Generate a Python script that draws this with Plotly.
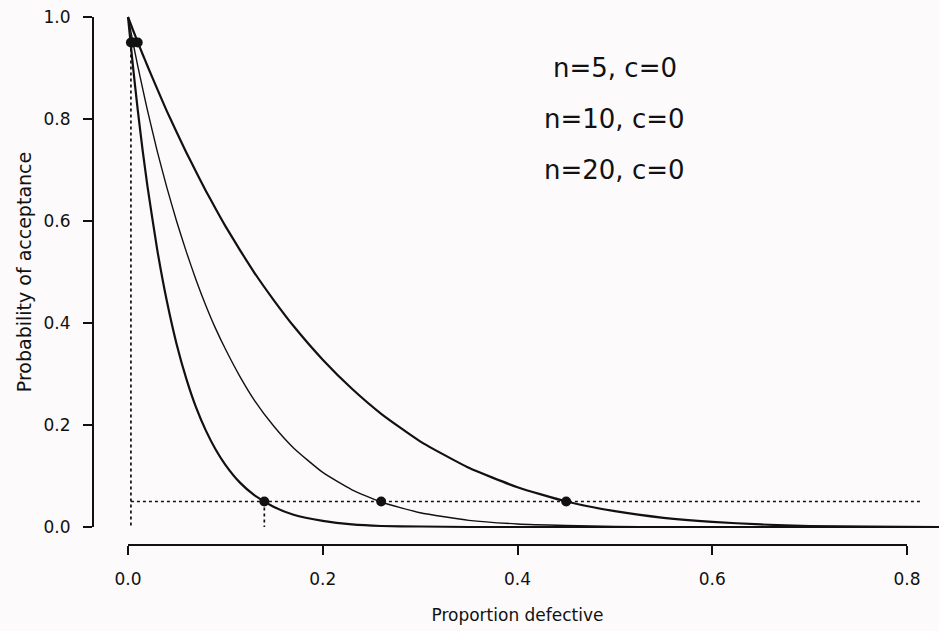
import plotly.graph_objects as go

# Proportion defective (x) and probability of acceptance
p_defective = [0.0, 0.005, 0.01, 0.015, 0.02, 0.03, 0.04, 0.05, 0.06, 0.07, 0.08,
               0.09, 0.10, 0.115, 0.13, 0.15, 0.17, 0.20, 0.23, 0.26, 0.30, 0.35,
               0.40, 0.45, 0.50, 0.55, 0.60, 0.65, 0.70, 0.76, 0.833]
pa_n5 = [1.0, 0.975, 0.951, 0.927, 0.904, 0.859, 0.815, 0.774, 0.734, 0.696, 0.659,
         0.624, 0.590, 0.543, 0.498, 0.444, 0.394, 0.328, 0.271, 0.222, 0.168, 0.116,
         0.078, 0.050, 0.031, 0.018, 0.010, 0.005, 0.002, 0.001, 0.0]
pa_n10 = [1.0, 0.951, 0.904, 0.860, 0.817, 0.737, 0.665, 0.599, 0.539, 0.484, 0.434,
          0.389, 0.349, 0.295, 0.248, 0.197, 0.155, 0.107, 0.073, 0.049, 0.028, 0.013,
          0.006, 0.003, 0.001, 0.0, 0.0, 0.0, 0.0, 0.0, 0.0]
pa_n20 = [1.0, 0.905, 0.818, 0.739, 0.668, 0.544, 0.442, 0.358, 0.290, 0.234, 0.189,
          0.152, 0.122, 0.087, 0.062, 0.039, 0.024, 0.012, 0.005, 0.002, 0.001, 0.0,
          0.0, 0.0, 0.0, 0.0, 0.0, 0.0, 0.0, 0.0, 0.0]

plan_labels = ["n=5, c=0", "n=10, c=0", "n=20, c=0"]
label_x = [0.5, 0.5, 0.5]
label_y = [0.9, 0.8, 0.7]

# marked points: producer's risk (Pa=0.95) and consumer's risk (Pa=0.05)
pa_high = 0.95
pa_low = 0.05
p_at_high = [0.010, 0.005, 0.003]
p_at_low = [0.45, 0.26, 0.14]
ref_x_start = 0.003
ref_x_end = 0.816

x_ticks = [0.0, 0.2, 0.4, 0.6, 0.8]
y_ticks = [0.0, 0.2, 0.4, 0.6, 0.8, 1.0]

W, H = 939, 631
# pixel geometry of the reference
px0, px08 = 128, 907        # x=0 and x=0.8
py0, py1 = 527, 17          # y=0 and y=1
x_axis_py = 545
y_axis_px = 93

sx = (px08 - px0) / 0.8
sy = (py0 - py1) / 1.0

font = "DejaVu Sans"
ink = "#111111"

fig = go.Figure()

for ys, w in [(pa_n5, 2.2), (pa_n10, 1.4), (pa_n20, 2.2)]:
    fig.add_trace(go.Scatter(x=p_defective, y=ys, mode="lines",
                             line=dict(color=ink, width=w, shape="spline", smoothing=0.5),
                             showlegend=False, hoverinfo="skip", xaxis="x", yaxis="y"))

# dotted reference lines
fig.add_trace(go.Scatter(x=[ref_x_start, ref_x_start, None, ref_x_start, ref_x_end, None,
                            p_at_low[2], p_at_low[2]],
                         y=[pa_high, 0.0, None, pa_low, pa_low, None, pa_low, 0.0],
                         mode="lines", line=dict(color=ink, width=1.7, dash="dot"),
                         showlegend=False, hoverinfo="skip", xaxis="x", yaxis="y"))

# markers on the visible (detached) axes
fig.add_trace(go.Scatter(x=p_at_high + p_at_low, y=[pa_high] * 3 + [pa_low] * 3,
                         mode="markers", marker=dict(color=ink, size=10, symbol="circle"),
                         cliponaxis=False, showlegend=False, hoverinfo="skip",
                         xaxis="x2", yaxis="y2"))

for t, x, y in zip(plan_labels, label_x, label_y):
    fig.add_annotation(x=x, y=y, xref="x", yref="y", text=t, showarrow=False,
                       font=dict(family=font, size=26, color=ink))

fig.update_layout(
    width=W, height=H,
    margin=dict(l=0, r=0, t=0, b=0, pad=0, autoexpand=False),
    paper_bgcolor="#fcfafb", plot_bgcolor="rgba(0,0,0,0)",
    xaxis=dict(domain=[0, 1], range=[-px0 / sx, (W - px0) / sx], visible=False,
               automargin=False),
    yaxis=dict(domain=[0, 1], range=[-(H - py0) / sy, 1 + py1 / sy], visible=False,
               automargin=False),
    xaxis2=dict(domain=[px0 / W, px08 / W], range=[0, 0.8], anchor="free",
                position=1 - x_axis_py / H, showgrid=False, zeroline=False,
                automargin=False,
                showline=True, linecolor=ink, linewidth=2,
                ticks="outside", ticklen=9, tickwidth=2, tickcolor=ink,
                tickvals=x_ticks, tickformat=".1f", ticklabelstandoff=10,
                tickfont=dict(family=font, size=17, color=ink),
                title=dict(text="Proportion defective", standoff=20,
                           font=dict(family=font, size=17, color=ink))),
    yaxis2=dict(domain=[1 - py0 / H, 1 - py1 / H], range=[0, 1], anchor="free",
                position=y_axis_px / W, showgrid=False, zeroline=False,
                automargin=False,
                showline=True, linecolor=ink, linewidth=2,
                ticks="outside", ticklen=9, tickwidth=2, tickcolor=ink,
                tickvals=y_ticks, tickformat=".1f", ticklabelstandoff=9,
                tickfont=dict(family=font, size=17, color=ink),
                title=dict(text="Probability of acceptance", standoff=6,
                           font=dict(family=font, size=19, color=ink))),
)

fig.write_html("out.html", config={"responsive": False, "displayModeBar": False},
               post_script="document.body.style.margin='0';document.body.style.overflow='hidden';")
